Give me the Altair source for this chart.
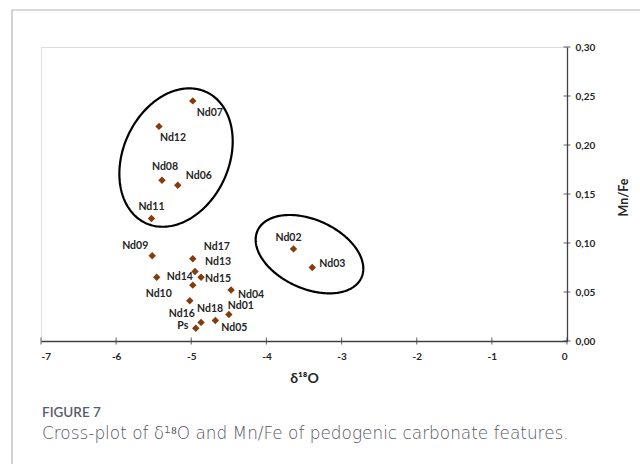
import altair as alt
import numpy as np
import pandas as pd

# ---- data ----
samples = ["Nd07", "Nd12", "Nd08", "Nd06", "Nd11", "Nd09", "Nd17", "Nd13", "Nd15",
           "Nd10", "Nd14", "Nd04", "Nd16", "Nd01", "Nd05", "Nd18", "Ps", "Nd02", "Nd03"]
d18O = [-4.98, -5.43, -5.39, -5.18, -5.53, -5.52, -4.98, -4.95, -4.87,
        -5.46, -4.98, -4.47, -5.02, -4.50, -4.68, -4.87, -4.94, -3.64, -3.39]
mnfe = [0.245, 0.219, 0.164, 0.159, 0.125, 0.087, 0.084, 0.071, 0.065,
        0.065, 0.057, 0.052, 0.041, 0.027, 0.021, 0.019, 0.013, 0.094, 0.075]
x_ticks = [-7, -6, -5, -4, -3, -2, -1, 0]
y_ticks = [0.0, 0.05, 0.10, 0.15, 0.20, 0.25, 0.30]

# ---- layout ----
W, H = 526, 294
PAD = {"left": 41, "top": 47, "right": 73, "bottom": 123}
kx, ky = W / 7.0, H / 0.30  # px per data unit

# label offsets (px) relative to each point
label_off = {
    "Nd07": (17, 12), "Nd12": (14, 12), "Nd08": (3, -13), "Nd06": (21, -9),
    "Nd11": (0, -12), "Nd09": (-17, -10), "Nd17": (24, -12), "Nd13": (23, -9),
    "Nd15": (17, 2), "Nd14": (-13, -8), "Nd10": (2, 17), "Nd04": (20, 5),
    "Nd16": (-8, 13), "Nd18": (9, -13), "Nd01": (12, -9), "Nd05": (19, 8),
    "Ps": (-13, -2), "Nd02": (-5, -11), "Nd03": (20, -4),
}

FONT = "Lato"
TXT = "#262626"

df = pd.DataFrame({"sample": samples, "d18O": d18O, "mnfe": mnfe})

xscale = alt.Scale(domain=[-7, 0], nice=False, zero=False)
yscale = alt.Scale(domain=[0, 0.30], nice=False, zero=False)

xaxis = alt.Axis(values=x_ticks, labelExpr="'' + datum.value", ticks=False, grid=False,
                 domainColor="#404040", domainWidth=1.3, labelFont=FONT, labelFontWeight="bold",
                 labelFontSize=10, labelColor=TXT, labelPadding=10,
                 title="δ¹⁸O", titleFont=FONT, titleFontSize=14, titleFontWeight="bold",
                 titleColor=TXT, titleBaseline="middle", titleY=37)
yaxis = alt.Axis(orient="right", values=y_ticks,
                 labelExpr="replace(format(datum.value, '.2f'), '.', ',')",
                 ticks=False, grid=False, domainColor="#404040", domainWidth=1.3,
                 labelFont=FONT, labelFontWeight="bold", labelFontSize=10, labelColor=TXT,
                 labelPadding=8, title="Mn/Fe", titleFont=FONT, titleFontSize=12.5,
                 titleFontWeight="bold", titleColor=TXT, titleAngle=270,
                 titleBaseline="middle", titleAlign="center", titleX=56, titleY=150)

base = alt.Chart(df)

points = base.mark_point(shape="diamond", filled=True, size=55, color="#843C0C", opacity=1).encode(
    x=alt.X("d18O:Q", scale=xscale, axis=xaxis),
    y=alt.Y("mnfe:Q", scale=yscale, axis=yaxis),
)

labels = []
for s in samples:
    dx, dy = label_off[s]
    labels.append(
        base.transform_filter(alt.datum.sample == s)
        .mark_text(font=FONT, fontWeight="bold", fontSize=10.5, color=TXT,
                   align="center", baseline="middle", dx=dx, dy=dy)
        .encode(x="d18O:Q", y="mnfe:Q", text="sample:N")
    )

# ellipses enclosing the groups (centre in data units, semi-axes in px, tilt in degrees)
ellipse_params = [
    ("A", -5.203, 0.1872, 72.2, 52.8, 65.3),
    ("B", -3.427, 0.0886, 57.0, 34.4, -24.4),
]
rows = []
t = np.linspace(0, 2 * np.pi, 241)
for name, cx, cy, a, b, ang in ellipse_params:
    th = np.deg2rad(ang)
    ex = a * np.cos(t) * np.cos(th) - b * np.sin(t) * np.sin(th)
    ey = a * np.cos(t) * np.sin(th) + b * np.sin(t) * np.cos(th)
    for i in range(len(t)):
        rows.append({"e": name, "i": i, "x": cx + ex[i] / kx, "y": cy + ey[i] / ky})
edf = pd.DataFrame(rows)
ellipses = alt.Chart(edf).mark_line(color="black", strokeWidth=2.2).encode(
    x="x:Q", y="y:Q", detail="e:N", order="i:Q"
)

# crossing tick marks on both axes
xt = alt.Chart(pd.DataFrame({"v": x_ticks})).mark_tick(
    orient="vertical", size=7, thickness=1.2, color="#404040").encode(
    x="v:Q", y=alt.value(H))
yt = alt.Chart(pd.DataFrame({"v": y_ticks})).mark_tick(
    orient="horizontal", size=7, thickness=1.2, color="#404040").encode(
    y="v:Q", x=alt.value(W))

one = pd.DataFrame({"a": [0]})
frame_left = alt.Chart(one).mark_rule(color="#b4b4bc", strokeWidth=1.2).encode(
    x=alt.value(-29), y=alt.value(-37), y2=alt.value(464 - PAD["top"]))
frame_top = alt.Chart(one).mark_rule(color="#b4b4bc", strokeWidth=1.2).encode(
    x=alt.value(-29), x2=alt.value(640 - PAD["left"]), y=alt.value(-37))

cap1 = alt.Chart(one).mark_text(font=FONT, fontWeight=600, fontSize=13.5, color="#5b5b6b",
                                align="left", baseline="alphabetic").encode(
    x=alt.value(1), y=alt.value(370), text=alt.value("FIGURE 7"))
cap2 = alt.Chart(one).mark_text(font="DejaVu Sans", fontWeight=200, fontSize=16.9, color="#555562",
                                align="left", baseline="alphabetic").encode(
    x=alt.value(1), y=alt.value(392),
    text=alt.value("Cross-plot of δ¹⁸O and Mn/Fe of pedogenic carbonate features."))

chart = alt.layer(
    frame_left, frame_top, ellipses, points, *labels, xt, yt, cap1, cap2
).properties(
    width=W, height=H,
    autosize=alt.AutoSizeParams(type="none"),
    padding=PAD,
).configure_view(stroke="#7f7f7f", strokeWidth=1.6).configure(background="white")

chart.save("out.html", embed_options={"renderer": "svg", "actions": False})
